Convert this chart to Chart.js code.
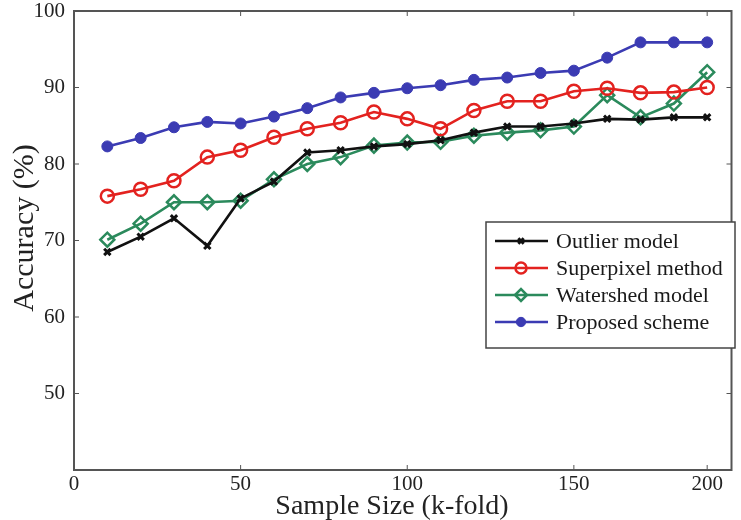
<!DOCTYPE html>
<html><head><meta charset="utf-8">
<script src="https://cdn.jsdelivr.net/npm/chart.js@4.4.1/dist/chart.umd.min.js"></script>
<style>html,body{margin:0;padding:0;background:#fff}#wrap{width:741px;height:520px}</style>
</head><body><div id="wrap"><canvas id="c" width="741" height="520"></canvas></div>
<script>
const sampleSizes = [10,20,30,40,50,60,70,80,90,100,110,120,130,140,150,160,170,180,190];
const outlier     = [68.5,70.5,72.9,69.3,75.5,77.7,81.5,81.8,82.3,82.6,83.1,84.1,84.9,84.9,85.3,85.9,85.8,86.1,86.1];
const superpixel  = [75.8,76.7,77.8,80.9,81.8,83.5,84.6,85.4,86.8,85.9,84.6,87.0,88.2,88.2,89.5,89.9,89.3,89.4,90.0];
const watershed   = [70.1,72.2,75.0,75.0,75.2,78.0,80.0,80.9,82.4,82.8,82.9,83.7,84.1,84.4,84.9,89.0,86.1,87.9,92.0];
const proposed    = [82.3,83.4,84.8,85.5,85.3,86.2,87.3,88.7,89.3,89.9,90.3,91.0,91.3,91.9,92.2,93.9,95.9,95.9,95.9];
const xTickValues = [0,50,100,150,190];
const xTickLabels = ['0','50','100','150','200'];
const yTickValues = [50,60,70,80,90,100];
const seriesNames = ['Outlier model','Superpixel method','Watershed model','Proposed scheme'];
const xTitle = 'Sample Size (k-fold)';
const yTitle = 'Accuracy (%)';

const SERIF = "'Liberation Serif','Times New Roman',serif";
const toXY = arr => arr.map((v,i)=>({x:sampleSizes[i], y:v}));

const styles = [
  {color:'#111111', pointStyle:'crossRot', radius:4.5, pw:3, fill:'rgba(0,0,0,0)'},
  {color:'#e3221f', pointStyle:'circle', radius:6.5, pw:2.5, fill:'rgba(0,0,0,0)'},
  {color:'#2b8a5c', pointStyle:'rectRot', radius:7, pw:2.5, fill:'rgba(0,0,0,0)'},
  {color:'#3b3bb3', pointStyle:'circle', radius:5.5, pw:1, fill:'#3b3bb3'}
];
const allData = [outlier, superpixel, watershed, proposed];

const datasets = allData.map((d,i)=>({
  label: seriesNames[i],
  data: toXY(d),
  borderColor: styles[i].color,
  backgroundColor: styles[i].fill,
  pointBackgroundColor: styles[i].fill,
  pointBorderColor: styles[i].color,
  pointStyle: styles[i].pointStyle,
  pointRadius: styles[i].radius,
  pointBorderWidth: styles[i].pw,
  borderWidth: 2.6,
  tension: 0
}));

const framePlugin = {
  id: 'frame',
  afterDatasetsDraw(chart){
    const {ctx, chartArea:a, scales:{x,y}} = chart;
    ctx.save();
    ctx.strokeStyle = '#555';
    ctx.lineWidth = 2;
    ctx.strokeRect(a.left, a.top, a.right-a.left, a.bottom-a.top);
    ctx.lineWidth = 1;
    const t = 5;
    xTickValues.forEach(v=>{
      const px = x.getPixelForValue(v);
      ctx.beginPath();
      ctx.moveTo(px, a.bottom); ctx.lineTo(px, a.bottom - t);
      ctx.moveTo(px, a.top); ctx.lineTo(px, a.top + t);
      ctx.stroke();
    });
    yTickValues.forEach(v=>{
      const py = y.getPixelForValue(v);
      ctx.beginPath();
      ctx.moveTo(a.left, py); ctx.lineTo(a.left + t, py);
      ctx.moveTo(a.right, py); ctx.lineTo(a.right - t, py);
      ctx.stroke();
    });
    ctx.fillStyle = '#222';
    ctx.textAlign = 'center';
    ctx.textBaseline = 'middle';
    // x axis title
    ctx.font = "28px " + SERIF;
    ctx.fillText(xTitle, 392, 507);
    // y axis title
    ctx.save();
    ctx.translate(25, 228);
    ctx.rotate(-Math.PI/2);
    ctx.font = "30px " + SERIF;
    ctx.fillText(yTitle, 0, 0);
    ctx.restore();
    // legend box
    const bx = 486, by = 222, bw = 249, bh = 126;
    ctx.fillStyle = '#fff';
    ctx.fillRect(bx, by, bw, bh);
    ctx.strokeStyle = '#444';
    ctx.lineWidth = 1.5;
    ctx.strokeRect(bx, by, bw, bh);
    ctx.font = "22px " + SERIF;
    ctx.textBaseline = 'middle';
    ctx.textAlign = 'left';
    chart.data.datasets.forEach((ds,i)=>{
      const ry = by + 19 + i*27;
      ctx.strokeStyle = ds.borderColor;
      ctx.lineWidth = 2.6;
      ctx.beginPath(); ctx.moveTo(495, ry); ctx.lineTo(548, ry); ctx.stroke();
      ctx.fillStyle = ds.pointBackgroundColor;
      ctx.strokeStyle = ds.pointBorderColor;
      ctx.lineWidth = ds.pointBorderWidth;
      Chart.helpers.drawPoint(ctx, {pointStyle: ds.pointStyle, radius: ds.pointRadius*0.85, borderWidth: ds.pointBorderWidth, rotation:0}, 521, ry);
      ctx.fillStyle = '#1a1a1a';
      ctx.fillText(ds.label, 556, ry + 1);
    });
    ctx.restore();
  }
};

new Chart(document.getElementById('c'), {
  type: 'line',
  data: { datasets },
  options: {
    responsive: false,
    animation: false,
    layout: { padding: {left: 0, right: 4, top: 11, bottom: 0} },
    plugins: { legend: {display:false}, tooltip:{enabled:false} },
    scales: {
      x: {
        type: 'linear', min: 0, max: 197.3,
        afterBuildTicks(s){ s.ticks = xTickValues.map(v=>({value:v})); },
        afterFit(s){ s.height = 50; s.paddingLeft = 0; s.paddingRight = 0; },
        grid: { display:false, drawTicks:false },
        border: { display:false },
        ticks: {
          padding: 2, color:'#222', font:{family:SERIF, size:21},
          maxRotation: 0, autoSkip:false,
          callback(v){ const k = xTickValues.indexOf(v); return k>=0 ? xTickLabels[k] : ''; }
        },
        title: { display:false }
      },
      y: {
        type: 'linear', min: 40, max: 100,
        afterBuildTicks(s){ s.ticks = yTickValues.map(v=>({value:v})); },
        afterFit(s){ s.width = 74; s.paddingTop = 0; s.paddingBottom = 0; },
        grid: { display:false, drawTicks:false },
        border: { display:false },
        ticks: { padding: 9, color:'#222', font:{family:SERIF, size:21, lineHeight:1} }
      }
    }
  },
  plugins: [framePlugin]
});
</script>
</body></html>
